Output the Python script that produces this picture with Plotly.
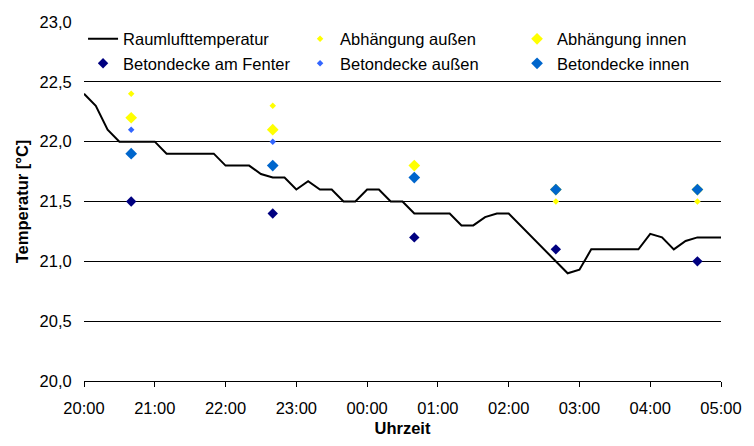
import plotly.graph_objects as go
import pandas as pd

# Raumlufttemperatur, every 10 minutes from 20:00 to 05:00
line_times = pd.date_range("2000-01-01 20:00", "2000-01-02 05:00", freq="10min")
raumluft = [22.4, 22.3, 22.1, 22.0, 22.0, 22.0,
            22.0, 21.9, 21.9, 21.9, 21.9, 21.9,
            21.8, 21.8, 21.8, 21.73, 21.7, 21.7,
            21.6, 21.67, 21.6, 21.6, 21.5, 21.5,
            21.6, 21.6, 21.5, 21.5, 21.4, 21.4,
            21.4, 21.4, 21.3, 21.3, 21.37, 21.4,
            21.4, 21.3, 21.2, 21.1, 21.0, 20.9,
            20.93, 21.1, 21.1, 21.1, 21.1, 21.1,
            21.23, 21.2, 21.1, 21.17, 21.2, 21.2,
            21.2]

# Surface measurements
meas_times = pd.to_datetime(["2000-01-01 20:40", "2000-01-01 22:40", "2000-01-02 00:40",
                             "2000-01-02 02:40", "2000-01-02 04:40"])
abh_aussen = [22.4, 22.3, 21.8, 21.5, 21.5]
abh_innen = [22.2, 22.1, 21.8, 21.6, 21.6]
beton_fenster = [21.5, 21.4, 21.2, 21.1, 21.0]
beton_aussen = [22.1, 22.0, 21.7, 21.6, 21.6]
beton_innen = [21.9, 21.8, 21.7, 21.6, 21.6]

tick_vals = pd.date_range("2000-01-01 20:00", "2000-01-02 05:00", freq="1h")
tick_text = [t.strftime("%H:%M") for t in tick_vals]

FONT = "Liberation Sans, Arial, sans-serif"
FS = 16.5

fig = go.Figure()
fig.add_trace(go.Scatter(x=line_times, y=raumluft, mode="lines", name="Raumlufttemperatur",
                         line=dict(color="black", width=2)))
fig.add_trace(go.Scatter(x=meas_times, y=abh_aussen, mode="markers", name="Abhängung außen",
                         marker=dict(symbol="diamond", size=5, color="#FFFF00")))
fig.add_trace(go.Scatter(x=meas_times, y=abh_innen, mode="markers", name="Abhängung innen",
                         marker=dict(symbol="diamond", size=9, color="#FFFF00")))
fig.add_trace(go.Scatter(x=meas_times, y=beton_fenster, mode="markers", name="Betondecke am Fenter",
                         marker=dict(symbol="diamond", size=8, color="#000080")))
fig.add_trace(go.Scatter(x=meas_times, y=beton_aussen, mode="markers", name="Betondecke außen",
                         marker=dict(symbol="diamond", size=5, color="#3366FF")))
fig.add_trace(go.Scatter(x=meas_times, y=beton_innen, mode="markers", name="Betondecke innen",
                         marker=dict(symbol="diamond", size=9, color="#0066CC")))

fig.update_layout(
    width=754, height=446,
    margin=dict(l=84, r=20, t=22, b=57),
    paper_bgcolor="white", plot_bgcolor="white",
    separators=",.",
    font=dict(family=FONT, size=FS, color="black"),
    showlegend=True,
    legend=dict(orientation="h", x=-0.0015, y=1.001, xanchor="left", yanchor="top",
                entrywidth=172, entrywidthmode="pixels", bgcolor="rgba(0,0,0,0)",
                font=dict(family=FONT, size=FS, color="black"), tracegroupgap=0,
                itemsizing="trace"),
    xaxis=dict(range=[tick_vals[0], tick_vals[-1]], tickvals=tick_vals, ticktext=tick_text,
               showgrid=False, showline=True, linecolor="black", linewidth=1,
               ticks="outside", ticklen=5, tickcolor="black", zeroline=False,
               ticklabeloverflow="allow", ticklabelstandoff=7,
               title=dict(text="<b>Uhrzeit</b>", font=dict(family=FONT, size=FS), standoff=6),
               tickfont=dict(family=FONT, size=FS)),
    yaxis=dict(range=[20, 23], dtick=0.5, tickformat=".1f", showgrid=True, gridcolor="black",
               gridwidth=1, zeroline=False, showline=False,
               ticks="outside", ticklen=8, tickcolor="rgba(0,0,0,0)",
               title=dict(text="<b>Temperatur [°C]</b>", font=dict(family=FONT, size=FS), standoff=6),
               tickfont=dict(family=FONT, size=FS)),
)

fig.write_html("out.html", config={"displayModeBar": False},
               post_script="document.body.style.margin='0';")
